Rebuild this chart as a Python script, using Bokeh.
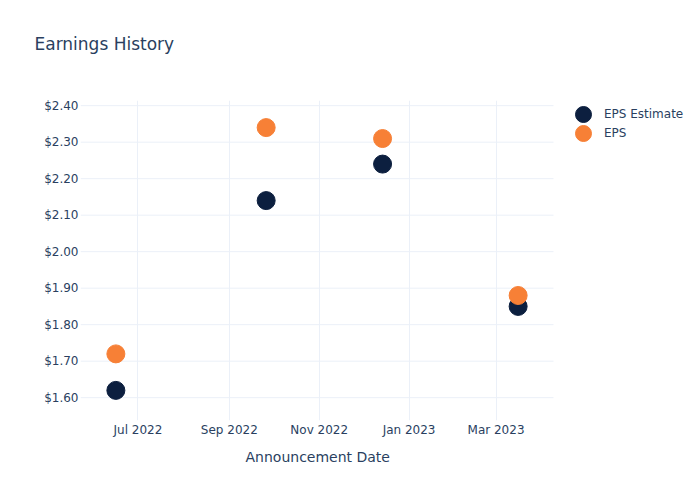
from datetime import datetime
from bokeh.plotting import figure
from bokeh.models import (ColumnDataSource, NumeralTickFormatter, FixedTicker,
                          DatetimeTickFormatter, Legend, LegendItem, Range1d, Title)
from bokeh.embed import file_html
from bokeh.resources import INLINE

dates = ["2022-06-16", "2022-09-26", "2022-12-14", "2023-03-16"]
eps_estimate = [1.62, 2.14, 2.24, 1.85]
eps_actual = [1.72, 2.34, 2.31, 1.88]
tick_dates = ["2022-07-01", "2022-09-01", "2022-11-01", "2023-01-01", "2023-03-01"]
y_ticks = [1.6, 1.7, 1.8, 1.9, 2.0, 2.1, 2.2, 2.3, 2.4]

def ms(s):
    return datetime.strptime(s, "%Y-%m-%d").timestamp() * 1000.0

x = [datetime.strptime(d, "%Y-%m-%d") for d in dates]
src = ColumnDataSource(dict(x=x, est=eps_estimate, eps=eps_actual))

FONT = "DejaVu Sans"
TXT = "#2a3f5f"
GRID = "#ebf0f8"

# visible data window: 2022-05-23 .. 2023-04-09 (80..553 px);
# frame extended to the right edge to host the legend
x_start, x_end_data = ms("2022-05-23"), ms("2023-04-09")
px_per_ms = (553 - 80) / (x_end_data - x_start)
x_end = x_start + (700 - 80) / px_per_ms

p = figure(width=700, height=500, x_axis_type="datetime",
           output_backend="svg", toolbar_location=None,
           x_range=Range1d(x_start, x_end),
           y_range=Range1d(1.5375, 2.4142),
           min_border_left=80, min_border_right=0,
           min_border_top=100, min_border_bottom=80)

p.title.text = "Earnings History"
p.title.text_font = FONT
p.title.text_font_size = "17px"
p.title.text_font_style = "normal"
p.title.text_color = TXT
p.title.offset = -46
p.title.standoff = 0

# spacer between title and plot area
spacer = Title(text=" ", text_font=FONT, text_font_size="12px", standoff=31)
p.add_layout(spacer, "above")

p.outline_line_color = None
p.background_fill_color = "white"
p.border_fill_color = "white"

# horizontal grid lines limited to the data window
gsrc = ColumnDataSource(dict(y=y_ticks, x0=[x_start] * len(y_ticks),
                             x1=[x_end_data] * len(y_ticks)))
p.segment(x0="x0", x1="x1", y0="y", y1="y", source=gsrc,
          line_color=GRID, line_width=1, level="underlay")
p.ygrid.grid_line_color = None
p.xgrid.grid_line_color = GRID

r1 = p.scatter("x", "est", source=src, size=18, color="#0c1f3f")
r2 = p.scatter("x", "eps", source=src, size=18, color="#f78036")

p.xaxis.ticker = FixedTicker(ticks=[ms(t) for t in tick_dates])
p.xaxis.formatter = DatetimeTickFormatter(months="%b %Y", days="%b %Y")
p.yaxis.ticker = FixedTicker(ticks=y_ticks)
p.yaxis.formatter = NumeralTickFormatter(format="$0.00")

for ax in (p.xaxis[0], p.yaxis[0]):
    ax.axis_line_color = None
    ax.major_tick_line_color = None
    ax.minor_tick_line_color = None
    ax.major_tick_out = 0
    ax.major_tick_in = 0
    ax.minor_tick_out = 0
    ax.major_label_text_font = FONT
    ax.major_label_text_font_size = "12px"
    ax.major_label_text_color = TXT

p.xaxis.major_label_standoff = 2
p.yaxis.major_label_standoff = 2

xlabel = Title(text="Announcement Date", align="left", offset=165,
               text_font=FONT, text_font_size="14px", text_font_style="normal",
               text_color=TXT, standoff=15)
p.add_layout(xlabel, "below")

legend1 = Legend(items=[LegendItem(label="EPS Estimate", renderers=[r1])],
                 location=(483, 286), border_line_color=None,
                 background_fill_alpha=0, label_text_font=FONT,
                 label_text_font_size="12px", label_text_color=TXT,
                 glyph_width=40, glyph_height=40, label_height=19,
                 spacing=0, padding=0, margin=0, label_standoff=1)
legend2 = Legend(items=[LegendItem(label="EPS", renderers=[r2])],
                 location=(483, 267), border_line_color=None,
                 background_fill_alpha=0, label_text_font=FONT,
                 label_text_font_size="12px", label_text_color=TXT,
                 glyph_width=40, glyph_height=40, label_height=19,
                 spacing=0, padding=0, margin=0, label_standoff=1)
p.add_layout(legend1, "center")
p.add_layout(legend2, "center")

open("out.html", "w").write(file_html(p, INLINE))
